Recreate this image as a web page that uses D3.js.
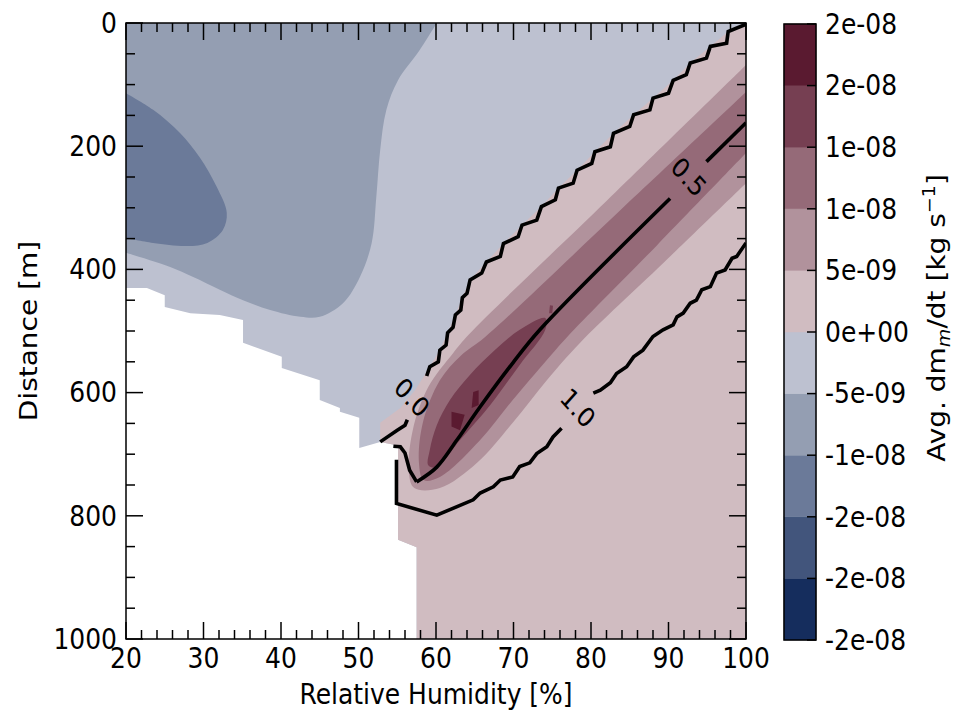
<!DOCTYPE html>
<html lang="en">
<head>
<meta charset="utf-8">
<script src="https://d3js.org/d3.v7.min.js"></script>
<title>Avg. dm/dt by Relative Humidity and Distance</title>
<style>
  body { margin:0; background:#fff; }
  text { font-family:"DejaVu Sans", sans-serif; fill:#000; }
  .cline { fill:none; stroke:#000; stroke-width:3.6px; stroke-linejoin:miter; }
  .tick { stroke:#000; stroke-width:1.5px; }
</style>
</head>
<body>
<script>
var width = 955, height = 711;
var left = 126, top_ = 23, plotW = 620, plotH = 616;
var stretch = 1.12;   // the picture is a little taller than wide

// axes
var xTicks = [20, 30, 40, 50, 60, 70, 80, 90, 100];
var yTicks = [0, 200, 400, 600, 800, 1000];

// colour bar
var cbLevels = [-2.5e-8, -2e-8, -1.5e-8, -1e-8, -5e-9, 0, 5e-9, 1e-8, 1.5e-8, 2e-8, 2.5e-8];
var cbLabels = ["-2e-08", "-2e-08", "-2e-08", "-1e-08", "-5e-09", "0e+00", "5e-09", "1e-08", "1e-08", "2e-08", "2e-08"];
var cbColors = ["#152d5d", "#42557c", "#6b7a99", "#949eb2", "#bdc1d0", "#d0bcc1", "#b1929c", "#956a78", "#763f52", "#5a1a30"];

// filled contours, [RH %, distance m]
var maskEdge = [[20,430],[22.7,430],[25,442],[25,461],[28.3,471],[32.1,474],[35.1,482],[35.1,519],[40.1,542],[40.1,560],
  [45,580],[45,612],[47.6,625],[47.6,631],[50.1,641],[50.1,690],[52.8,680],[55.1,686],[55.1,839],[57.5,851],[57.5,1000]];
var negHalfEdge = [[60.1,0],[57.9,44],[55.1,93],[53.6,141],[52.8,206],[52.3,282],[51.7,357],[50.2,412],[48.0,455],
  [45.0,477],[42.5,477],[38.6,466],[35.1,450],[32.1,433],[28.6,412],[25.7,396],[20,373]];
var negOneEdge = [[20,114],[23.5,141],[27.0,179],[29.5,218],[31.7,266],[33.0,308],[32.5,336],[30.5,357],[27.9,362],[23.5,357],[20,349]];
var zeroFillEdge = [[100,0],[97.7,14],[95.4,38],[92.8,65],[90.6,93],[88.0,122],[85.5,149],[82.9,179],[80.5,209],[78.2,239],
  [75.8,268],[73.6,298],[71.1,328],[68.7,358],[66.5,388],[64.4,417],[63.4,446],[62.5,474],[61.5,503],[60.5,531],[59.2,558],
  [57.3,596],[55.4,625],[52.8,649]];
var posHalfEdge = [[100,68],[82,289],[64.3,505],[62.2,536],[59.0,591],[57.0,661],[56.5,731],[57.2,755],[60.5,755],[65.3,714],
  [69.9,649],[74.3,580],[78.6,519],[89.3,390],[100,260]];
var posOneEdge = [[100,112],[83.2,311],[66.3,510],[63.2,540],[60.5,580],[58.3,649],[57.8,714],[58.4,742],[60.5,737],[65.7,677],
  [69.9,612],[74.3,547],[76.9,510],[88.5,361],[100,211]];
var posOneHalfCore = [[74.1,479],[70.8,498],[67.6,531],[64.4,571],[61.8,612],[60.1,653],[59.2,693],[59.0,718],[60.1,721],
  [63.1,677],[67.0,620],[70.8,555],[74.1,498]];
var posOneHalfSpot = [[74.7,458],[75.1,459],[75.0,471],[74.6,471]];
var posTwoSpots = [[[62.0,631],[63.7,636],[63.1,661],[62.0,655]], [[64.8,599],[65.5,596],[65.5,620],[64.6,625]]];

// line contours
var zeroLineA = [[100,2],[97.7,14],[97.5,33],[95.4,38],[94.9,57],[92.8,65],[92.3,84],[90.6,93],[90.0,114],[88.0,122],[87.6,141],
  [85.5,149],[85.0,168],[82.9,179],[82.5,201],[80.5,209],[80.1,228],[78.2,239],[77.7,260],[75.8,268],[75.4,287],[73.6,298],
  [73.0,320],[71.1,328],[70.6,347],[68.7,358],[68.3,379],[66.5,388],[65.9,406],[64.4,417],[64.0,439],[63.4,446],[63.2,466],
  [62.5,474],[62.2,494],[61.5,503],[61.3,523],[60.5,531],[60.3,550],[59.2,558],[58.8,573]];
var zeroLineB = [[56.3,644],[56.0,653],[55.0,661],[52.8,680]];
var halfLineA = [[100,162],[94.9,225]];
var halfLineB = [[90.2,285],[73.4,498],[69.9,552],[65.7,623],[62.7,677],[60.1,721],[57.5,745],[56.6,726],[56.0,698],[55.4,688],[54.5,687]];
var oneLineA = [[100,357],[98.8,379],[98.2,382],[97.3,401],[96.2,406],[95.4,428],[94.3,433],[93.6,450],[92.8,455],[91.9,471],
  [91.1,477],[90.6,490],[89.3,498],[88.0,509],[86.7,531],[85.5,542],[84.6,558],[83.3,569],[82.5,584],[81.2,596],[80.3,601]];
var oneLineB = [[76.2,658],[75.1,672],[74.3,688],[73.0,699],[72.1,714],[70.8,720],[69.9,737],[68.3,742],[67.4,753],[65.7,763],
  [64.8,774],[60.1,799],[54.9,780],[54.9,709]];
var lineLabels = ["0.0", "0.5", "1.0"];
var lineLabelAt = [[56.9,608], [92.6,250], [78.3,625]];

var x = d3.scaleLinear().domain([20, 100]).range([left, left + plotW]);
var y = d3.scaleLinear().domain([0, 1000]).range([top_, top_ + plotH]);
var color = d3.scaleThreshold().domain(cbLevels.slice(1, -1)).range(cbColors);

var svg = d3.select("body").append("svg").attr("width", width).attr("height", height);

svg.append("clipPath").attr("id", "plotclip").append("rect")
  .attr("x", left).attr("y", top_).attr("width", plotW).attr("height", plotH);

var plot = svg.append("g").attr("clip-path", "url(#plotclip)");

var smooth = d3.line().x(function(d){ return x(d[0]); }).y(function(d){ return y(d[1]); }).curve(d3.curveCatmullRom.alpha(0.5));
var smoothClosed = d3.line().x(function(d){ return x(d[0]); }).y(function(d){ return y(d[1]); }).curve(d3.curveCatmullRomClosed.alpha(0.5));
var straight = d3.line().x(function(d){ return x(d[0]); }).y(function(d){ return y(d[1]); });

function region(gen, pts, corners) {
  var p = gen(pts);
  (corners || []).forEach(function(c){ p += "L" + x(c[0]) + "," + y(c[1]); });
  return p + "Z";
}

// valid domain (-5e-09 .. 0)
plot.append("path")
  .attr("d", region(straight, [[20,0],[100,0],[100,1000]].concat(maskEdge.slice().reverse())))
  .attr("fill", color(-2.5e-9));
plot.append("path").attr("d", region(smooth, negHalfEdge, [[20,0]])).attr("fill", color(-7.5e-9));
plot.append("path").attr("d", region(smooth, negOneEdge)).attr("fill", color(-1.25e-8));

var zEnd = zeroFillEdge[zeroFillEdge.length - 1];
plot.append("path")
  .attr("d", region(straight, zeroFillEdge.concat(maskEdge.filter(function(p){ return p[0] >= zEnd[0]; })), [[100,1000]]))
  .attr("fill", color(2.5e-9));
plot.append("path").attr("d", region(smooth, posHalfEdge)).attr("fill", color(7.5e-9));
plot.append("path").attr("d", region(smooth, posOneEdge)).attr("fill", color(1.25e-8));
plot.append("path").attr("d", smoothClosed(posOneHalfCore)).attr("fill", color(1.75e-8));
plot.append("path").attr("d", region(straight, posOneHalfSpot)).attr("fill", color(1.75e-8));
posTwoSpots.forEach(function(s){
  plot.append("path").attr("d", region(straight, s)).attr("fill", color(2.25e-8));
});

// contour lines
[zeroLineA, zeroLineB, oneLineA, oneLineB].forEach(function(l){
  plot.append("path").attr("class", "cline").attr("d", straight(l));
});
plot.append("path").attr("class", "cline").attr("d", straight(halfLineA));
plot.append("path").attr("class", "cline").attr("d", smooth(halfLineB.slice(0, 7)) );
plot.append("path").attr("class", "cline").attr("d", straight(halfLineB.slice(6)));

function label(px, py, str, anchor, rot, size) {
  return svg.append("text")
    .attr("transform", "translate(" + px + "," + py + ") scale(1," + stretch + ")" + (rot ? " rotate(" + rot + ")" : ""))
    .attr("text-anchor", anchor)
    .style("font-size", (size || 25) + "px")
    .text(str);
}

lineLabels.forEach(function(t, i){
  label(x(lineLabelAt[i][0]), y(lineLabelAt[i][1]), t, "middle", 45, 24).attr("dy", "0.35em");
});

// frame and ticks (inward, all four sides)
svg.append("rect").attr("x", left).attr("y", top_).attr("width", plotW).attr("height", plotH)
  .attr("fill", "none").attr("stroke", "#000").attr("stroke-width", 1.5);

var ticks = svg.append("g");
x.ticks(40).forEach(function(v){
  var len = xTicks.indexOf(v) >= 0 ? 17 : 9;
  ticks.append("line").attr("class", "tick").attr("x1", x(v)).attr("x2", x(v)).attr("y1", y(1000)).attr("y2", y(1000) - len);
  ticks.append("line").attr("class", "tick").attr("x1", x(v)).attr("x2", x(v)).attr("y1", y(0)).attr("y2", y(0) + len);
});
y.ticks(20).forEach(function(v){
  var len = yTicks.indexOf(v) >= 0 ? 17 : 9;
  ticks.append("line").attr("class", "tick").attr("y1", y(v)).attr("y2", y(v)).attr("x1", x(20)).attr("x2", x(20) + len);
  ticks.append("line").attr("class", "tick").attr("y1", y(v)).attr("y2", y(v)).attr("x1", x(100)).attr("x2", x(100) - len);
});

xTicks.forEach(function(v){ label(x(v), 668, String(v), "middle"); });
yTicks.forEach(function(v){ label(left - 9, y(v), String(v), "end").attr("dy", "0.35em"); });

label(x(60), 704, "Relative Humidity [%]", "middle");
label(37, y(500), "Distance [m]", "middle", -90);

// colour bar
var cbX = 784, cbW = 32;
var cbY = d3.scaleLinear().domain([cbLevels[0], cbLevels[cbLevels.length - 1]]).range([640, 24]);
var cb = svg.append("g");
cbColors.forEach(function(c, i){
  cb.append("rect").attr("x", cbX).attr("width", cbW)
    .attr("y", cbY(cbLevels[i + 1])).attr("height", cbY(cbLevels[i]) - cbY(cbLevels[i + 1]))
    .attr("fill", c).attr("stroke", c).attr("stroke-width", 0.5);
});
cb.append("rect").attr("x", cbX).attr("y", cbY.range()[1]).attr("width", cbW).attr("height", cbY.range()[0] - cbY.range()[1])
  .attr("fill", "none").attr("stroke", "#000").attr("stroke-width", 1.5);
cbLevels.forEach(function(v, i){
  cb.append("line").attr("class", "tick").attr("x1", cbX + cbW).attr("x2", cbX + cbW - 9).attr("y1", cbY(v)).attr("y2", cbY(v));
  label(cbX + cbW + 9, cbY(v), cbLabels[i], "start").attr("dy", "0.35em");
});

var cbTitle = label(945, 318, "", "middle", -90);
cbTitle.append("tspan").text("Avg. dm");
cbTitle.append("tspan").attr("dy", 5).style("font-size", "17px").style("font-style", "italic").text("m");
cbTitle.append("tspan").attr("dy", -5).text("/dt [kg s");
cbTitle.append("tspan").attr("dy", -10).style("font-size", "17px").text("\u22121");
cbTitle.append("tspan").attr("dy", 10).text("]");
</script>
</body>
</html>
